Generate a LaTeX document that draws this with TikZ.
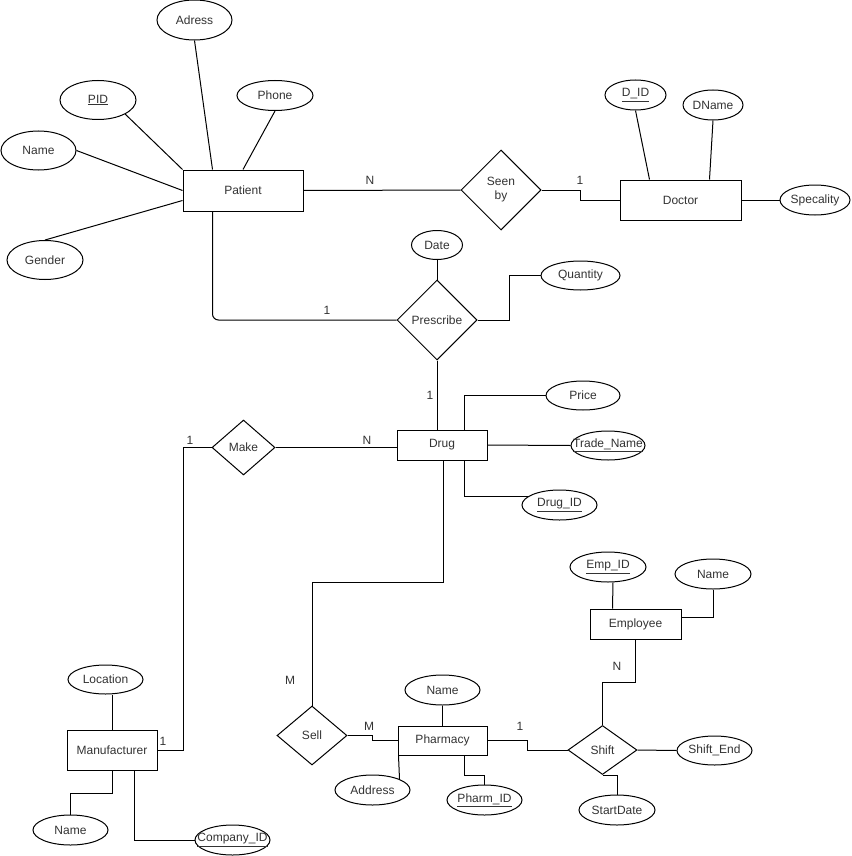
\documentclass[tikz,border=0pt]{standalone}
\usepackage{fontspec}
\setmainfont{Liberation Sans}
\usetikzlibrary{shapes.geometric}
\begin{document}
\begin{tikzpicture}[x=1pt,y=-1pt,line width=1pt,
  every node/.style={font=\fontsize{12}{14}\selectfont,text=black!80},
  ent/.style={draw=black,rectangle,inner sep=0pt},
  attr/.style={draw=black,ellipse,inner sep=0pt},
  rel/.style={draw=black,diamond,inner sep=0pt,align=center},
  card/.style={inner sep=0pt}]
\useasboundingbox[fill=white] (0,0) rectangle (851,856);

% Entities
\node[ent,minimum width=120pt,minimum height=41pt] (patient) at (243,190.5) {Patient};
\node[ent,minimum width=121pt,minimum height=40pt] (doctor) at (680.5,200) {Doctor};
\node[ent,minimum width=90pt,minimum height=30pt] (drug) at (442,445) {Drug};
\node[ent,minimum width=90pt,minimum height=40pt] (mfr) at (112,750) {Manufacturer};
\node[ent,minimum width=89pt,minimum height=29pt] (pharmacy) at (442.5,740.5) {Pharmacy};
\node[ent,minimum width=91pt,minimum height=30pt] (employee) at (635.5,624) {Employee};

% Relationships
\node[rel,minimum width=80pt,minimum height=80pt] (seenby) at (501,190) {Seen\\by};
\node[rel,minimum width=80pt,minimum height=80pt] (prescribe) at (437,320) {Prescribe};
\node[rel,minimum width=63pt,minimum height=55pt] (make) at (243.5,447.5) {Make};
\node[rel,minimum width=70pt,minimum height=59pt] (sell) at (312,735.5) {Sell};
\node[rel,minimum width=69pt,minimum height=49pt] (shift) at (602.5,750) {Shift};

% Attributes
\node[attr,minimum width=75pt,minimum height=40pt] (adress) at (194.5,20) {Adress};
\node[attr,minimum width=76pt,minimum height=39pt] (pid) at (98,100) {\underline{PID}};
\node[attr,minimum width=76pt,minimum height=30pt] (phone) at (275,95.5) {Phone};
\node[attr,minimum width=75pt,minimum height=39pt] (pname) at (38.5,150.5) {Name};
\node[attr,minimum width=76pt,minimum height=39pt] (gender) at (45,260) {Gender};
\node[attr,minimum width=61pt,minimum height=30pt] (did) at (635.5,95) {\underline{D\_ID}};
\node[attr,minimum width=60pt,minimum height=30pt] (dname) at (713,105) {DName};
\node[attr,minimum width=70pt,minimum height=30pt] (spec) at (815,200) {\makebox[0pt]{Specality}};
\node[attr,minimum width=51pt,minimum height=29pt] (date) at (437,245) {Date};
\node[attr,minimum width=79pt,minimum height=29pt] (quantity) at (580.5,275.5) {Quantity};
\node[attr,minimum width=74pt,minimum height=29pt] (price) at (583,395.5) {Price};
\node[attr,minimum width=74pt,minimum height=29pt] (trade) at (608,445.5) {\makebox[0pt]{\underline{Trade\_Name}}};
\node[attr,minimum width=75pt,minimum height=30pt] (drugid) at (559.5,505) {\makebox[0pt]{\underline{Drug\_ID}}};
\node[attr,minimum width=75pt,minimum height=29pt] (location) at (105.5,679.5) {Location};
\node[attr,minimum width=75pt,minimum height=30pt] (mname) at (70.5,830) {Name};
\node[attr,minimum width=75pt,minimum height=30pt] (company) at (232.5,840) {\makebox[0pt]{\underline{Company\_ID}}};
\node[attr,minimum width=75pt,minimum height=30pt] (phname) at (442.5,690) {Name};
\node[attr,minimum width=75pt,minimum height=30pt] (address) at (372.5,790) {Address};
\node[attr,minimum width=75pt,minimum height=30pt] (pharmid) at (484.5,800) {\makebox[0pt]{\underline{Pharm\_ID}}};
\node[attr,minimum width=75pt,minimum height=29pt] (shiftend) at (714.5,750.5) {\makebox[0pt]{Shift\_End}};
\node[attr,minimum width=76pt,minimum height=30pt] (startdate) at (617,810) {\makebox[0pt]{StartDate}};
\node[attr,minimum width=76pt,minimum height=30pt] (empid) at (608,567) {\underline{Emp\_ID}};
\node[attr,minimum width=76pt,minimum height=30pt] (ename) at (713,574) {Name};

% Patient attributes
\draw (adress.south) -- ([xshift=30pt]patient.north west);
\draw (pid.south east) -- (patient.north west);
\draw (phone.south) -- (patient.north);
\draw (pname.east) -- (patient.west);
\draw (gender.north) -- ([yshift=-10pt]patient.west);

% Doctor attributes
\draw (did.south) -- ([xshift=30pt]doctor.north west);
\draw (dname.south) -- ([xshift=90pt]doctor.north west);
\draw (doctor.east) -- (spec.west);

% Patient - Seen by - Doctor
\draw (patient.east) -- (seenby.west);
\draw (seenby.east) -- ++(39,0) |- (doctor.west);
\node[card] at (370,180) {N};
\node[card] at (580,180) {1};

% Patient - Prescribe - Drug
\draw[rounded corners=6pt] ([xshift=30pt]patient.south west) |- (prescribe.west);
\node[card] at (327,310) {1};
\draw (date.south) -- (prescribe.north);
\draw (prescribe.east) -- ++(32,0) |- (quantity.west);
\draw (prescribe.south) -- (prescribe.south |- drug.north);
\node[card] at (430,395) {1};

% Drug attributes
\draw ([xshift=68pt]drug.north west) |- (price.west);
\draw (drug.east) -- (trade.west);
\draw ([xshift=68pt]drug.south west) |- (drugid.165);

% Make
\draw (make.east) -- (make.east -| drug.west);
\node[card] at (367,440) {N};
\draw (make.west) -- ++(-28,0) |- (mfr.east);
\node[card] at (190,440) {1};
\node[card] at (163,741) {1};

% Manufacturer attributes
\draw (mfr.north) -- (mfr.north |- location.south);
\draw (mfr.south) -- ++(0,23) -| (mname.north);
\draw ([xshift=68pt]mfr.south west) |- (company.west);

% Sell
\draw ([xshift=1pt]drug.south) -- ++(0,122) -| (sell.north);
\node[card] at (290,680) {M};
\draw (sell.east) -- ++(25,0) |- (pharmacy.west);
\node[card] at (369,726) {M};

% Pharmacy attributes
\draw (pharmacy.north) -- (phname.south);
\draw ([xshift=1pt]pharmacy.south west) -- (address.22);
\draw ([xshift=67pt]pharmacy.south west) -- ++(0,20) -| (pharmid.north);

% Shift
\draw (pharmacy.east) -- ++(40,0) |- (shift.west);
\node[card] at (520,726) {1};
\draw (shift.east) -- (shiftend.west);
\draw (shift.south) -| (startdate.north);
\draw (employee.south) -- ++(0,43) -| (shift.north);
\node[card] at (617,666) {N};

% Employee attributes
\draw ([xshift=23pt]employee.north west) -- ([xshift=5pt]empid.south);
\draw ([yshift=7pt]employee.east) -| (ename.south);
\end{tikzpicture}
\end{document}
